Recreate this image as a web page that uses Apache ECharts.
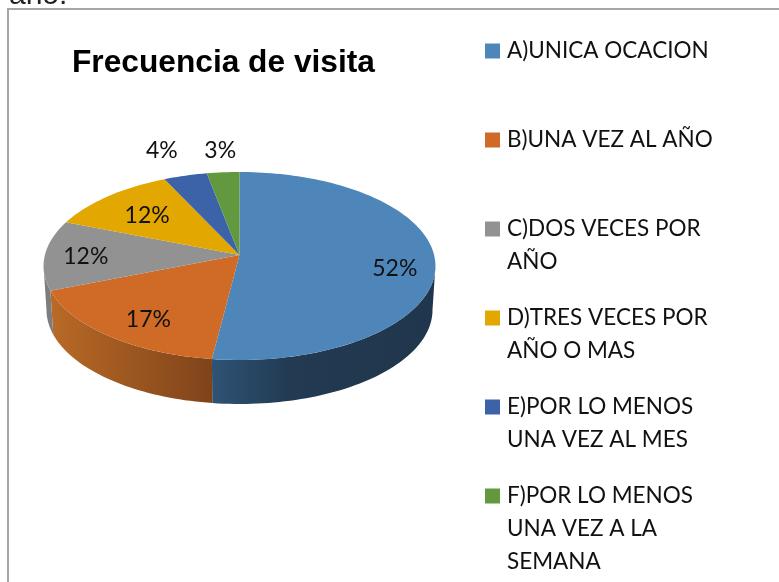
<!DOCTYPE html>
<html>
<head>
<meta charset="utf-8">
<style>html,body{margin:0;padding:0;background:#fff}#chart{width:779px;height:582px}</style>
<script src="https://cdn.jsdelivr.net/npm/echarts@6/dist/echarts.min.js"></script>
</head>
<body>
<div id="chart"></div>
<script>
// ---- data ----
const categories = [
  'A)UNICA OCACION',
  'B)UNA VEZ AL AÑO',
  'C)DOS VECES POR\nAÑO',
  'D)TRES VECES POR\nAÑO O MAS',
  'E)POR LO MENOS\nUNA VEZ AL MES',
  'F)POR LO MENOS\nUNA VEZ A LA\nSEMANA'
];
const percentages = [52, 17, 12, 12, 4, 3];
const chartTitle = 'Frecuencia de visita';
const clippedCaption = 'año.';

// ---- styles / layout ----
const colors = ['#4e86ba', '#cf6b27', '#929292', '#e2a700', '#3c63a8', '#62993f'];
const wallStops = [
  [[0, '#2f5375'], [0.35, '#223a52'], [1, '#20364c']],
  [[0, '#b96a26'], [1, '#7f431a']],
  [[0, '#7d7d7d'], [1, '#7d7d7d']],
  null, null, null
];
const labelRadius = [0.8, 0.75, 0.8, 0.75, 1.2, 1.2];
const labelNudge = [[-1, 9], [5, 6], [2, 2], [8, 5], [-14, -11], [0, -7]];
const legendSymbolY = [51, 140, 229, 318, 407, 496];
const LEGEND_LINE = 33;
const LEGEND_FONT_SIZE = 22.5;
const LABEL_FONT_SIZE = 23;
const LABEL_FONT = 'Lato';

// projection of the tilted pie disc
const CX = 239.5, CY = 255, BX = 194.6, AY = 92.7, K = 0.117;
const DEPTH = 44, BOTTOM_SCALE = 0.985;
const RIGHT_EDGE = 96.7, LEFT_EDGE = 263.3;   // silhouette angles of the side wall

function project(deg, r) {
  const a = deg * Math.PI / 180;
  const u = r * Math.sin(a), v = r * Math.cos(a), w = 1 + K * v;
  return [CX + BX * u / w, CY - AY * v / w];
}
function lower(p) {
  return [CX + (p[0] - CX) * BOTTOM_SCALE, p[1] + DEPTH];
}
function arc(a0, a1) {
  const n = Math.max(2, Math.ceil(Math.abs(a1 - a0) / 1.5));
  const pts = [];
  for (let i = 0; i <= n; i++) pts.push(project(a0 + (a1 - a0) * i / n, 1));
  return pts;
}

const total = percentages.reduce((s, v) => s + v, 0);
let running = 0;
const spans = percentages.map(v => {
  const s = running; running += v;
  return [s / total * 360, running / total * 360];
});

function makeRender(i) {
  return function (params, api) {
    const a0 = api.value(0), a1 = api.value(1);
    const children = [];
    const w0 = Math.max(a0, RIGHT_EDGE), w1 = Math.min(a1, LEFT_EDGE);
    if (w1 > w0 && wallStops[i]) {
      const upper = arc(w0, w1);
      const pts = upper.concat(upper.map(lower).reverse());
      const xs = pts.map(p => p[0]);
      const xa = Math.min.apply(null, xs), xb = Math.max.apply(null, xs);
      const stops = wallStops[i].map(s => ({offset: s[0], color: s[1]}));
      children.push({
        type: 'polygon',
        shape: {points: pts},
        style: {fill: new echarts.graphic.LinearGradient(xa, 0, xb, 0, stops, true)}
      });
    }
    const top = [[CX, CY]].concat(arc(a0, a1));
    children.push({type: 'polygon', shape: {points: top}, style: {fill: colors[i]}});
    const lp = project((a0 + a1) / 2, labelRadius[i]);
    children.push({
      type: 'text',
      z2: 10,
      style: {
        x: lp[0] + labelNudge[i][0],
        y: lp[1] + labelNudge[i][1],
        text: percentages[i] + '%',
        fill: '#111',
        font: LABEL_FONT_SIZE + 'px ' + LABEL_FONT,
        align: 'center',
        verticalAlign: 'middle'
      }
    });
    return {type: 'group', children: children};
  };
}

function legendFor(i) {
  const lines = categories[i].split('\n').length;
  const blanks = lines - 1;
  return {
    show: true,
    left: 485,
    top: legendSymbolY[i] - (lines + blanks) * LEGEND_LINE / 2,
    padding: 0,
    orient: 'vertical',
    data: [categories[i]],
    icon: 'rect',
    itemWidth: 15,
    itemHeight: 15,
    selectedMode: false,
    formatter: name => ' \n'.repeat(blanks) + name,
    textStyle: {
      fontFamily: LABEL_FONT, fontSize: LEGEND_FONT_SIZE, color: '#111',
      lineHeight: LEGEND_LINE, padding: [0, 0, 0, 2]
    }
  };
}

const chart = echarts.init(document.getElementById('chart'), null, {renderer: 'canvas'});
chart.setOption({
  animation: false,
  backgroundColor: '#fff',
  tooltip: {show: false},
  title: [
    {text: chartTitle, left: 72, top: 47, padding: 0,
     textStyle: {fontFamily: 'Liberation Sans', fontWeight: 'bold', fontSize: 31.7, color: '#000'}},
    {text: clippedCaption, left: 9, top: -19, padding: 0,
     textStyle: {fontFamily: 'Liberation Sans', fontWeight: 'normal', fontSize: 30, color: '#222'}}
  ],
  legend: categories.map((c, i) => legendFor(i)),
  graphic: [
    {type: 'polyline', silent: true, z: -1,
     shape: {points: [[8, 582], [8, 9], [779, 9]]},
     style: {stroke: '#a6a6a6', lineWidth: 2, fill: null}}
  ],
  series: categories.map((c, i) => ({
    type: 'custom',
    name: c,
    coordinateSystem: 'none',
    clip: false,
    itemStyle: {color: colors[i]},
    renderItem: makeRender(i),
    data: [{name: c, value: spans[i]}]
  }))
});
</script>
</body>
</html>
